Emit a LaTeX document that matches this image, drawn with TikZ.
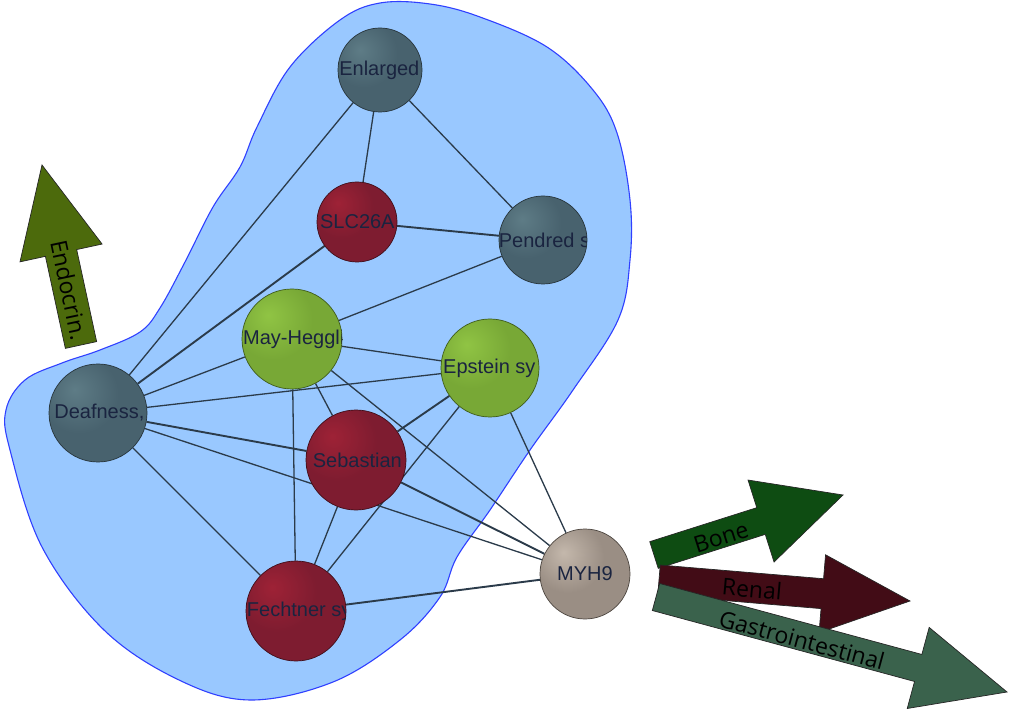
\documentclass[tikz,border=0pt]{standalone}
\usepackage{fontspec}
\setmainfont{Liberation Sans}
\newfontfamily\arrowfont{Open Sans}
\usetikzlibrary{calc}
\pgfdeclarelayer{blob}
\pgfdeclarelayer{edges}
\pgfsetlayers{blob,edges,main}

\definecolor{blobfill}{HTML}{99C8FF}
\definecolor{blobline}{HTML}{3040FF}
\definecolor{edgecol}{HTML}{2B3B4A}
\definecolor{ntextcol}{HTML}{1A2440}

\definecolor{slHL}{HTML}{5E7C86}
\definecolor{slM}{HTML}{48626E}
\definecolor{slD}{HTML}{384C56}
\definecolor{rdHL}{HTML}{9E2236}
\definecolor{rdM}{HTML}{7E1C30}
\definecolor{rdD}{HTML}{5C1424}
\definecolor{grHL}{HTML}{90C444}
\definecolor{grM}{HTML}{78A836}
\definecolor{grD}{HTML}{5A8426}
\definecolor{tpHL}{HTML}{C4B8AC}
\definecolor{tpM}{HTML}{9A8E84}
\definecolor{tpD}{HTML}{6E645C}

\definecolor{enD}{HTML}{4C6A0C}
\definecolor{enM}{HTML}{6E9222}
\definecolor{boD}{HTML}{0E4C12}
\definecolor{boM}{HTML}{227426}
\definecolor{reD}{HTML}{420C16}
\definecolor{reM}{HTML}{661A2A}
\definecolor{gaD}{HTML}{3A624C}
\definecolor{gaM}{HTML}{64907A}

\pgfdeclareradialshading{slball}{\pgfpoint{-12bp}{12bp}}{color(0bp)=(slHL); color(20bp)=(slM); color(48bp)=(slM); color(68bp)=(slD); color(100bp)=(slD)}
\pgfdeclareradialshading{rdball}{\pgfpoint{-12bp}{12bp}}{color(0bp)=(rdHL); color(20bp)=(rdM); color(48bp)=(rdM); color(68bp)=(rdD); color(100bp)=(rdD)}
\pgfdeclareradialshading{grball}{\pgfpoint{-12bp}{12bp}}{color(0bp)=(grHL); color(20bp)=(grM); color(48bp)=(grM); color(68bp)=(grD); color(100bp)=(grD)}
\pgfdeclareradialshading{tpball}{\pgfpoint{-12bp}{12bp}}{color(0bp)=(tpHL); color(20bp)=(tpM); color(48bp)=(tpM); color(68bp)=(tpD); color(100bp)=(tpD)}

\tikzset{
  gnode/.style={circle, inner sep=0pt, line width=0.7pt},
  slnode/.style={shading=slball, draw=slD!70!black},
  rdnode/.style={shading=rdball, draw=rdD!70!black},
  grnode/.style={shading=grball, draw=grD!70!black},
  tpnode/.style={shading=tpball, draw=tpD!70!black},
  ntext/.style={font=\fontsize{20}{20}\selectfont, text=ntextcol, inner sep=0pt},
  edge/.style={draw=edgecol, line width=1.3pt},
  edgeb/.style={draw=edgecol, line width=1.9pt},
  arrowlabel/.style={font=\arrowfont\fontsize{23}{23}\selectfont, text=black, inner sep=0pt},
  arrowline/.style={draw=black!85, line width=0.7pt}
}

% style, name, position, diameter, left pad, text
\newcommand\gn[6]{%
  \node[gnode, #1, minimum size=#4,
        path picture={\node[ntext, anchor=west] at ([xshift=#5]path picture bounding box.west) {#6};}]
        (#2) at (#3) {};%
}
% centred label variant: style, name, position, diameter, text
\newcommand\gnc[5]{%
  \node[gnode, #1, minimum size=#4,
        path picture={\node[ntext] at (path picture bounding box.center) {#5};}]
        (#2) at (#3) {};%
}

% tail, tip, half shaft width, half head width, head length, style
\newcommand\fatarrow[6]{%
  \coordinate (hb) at ($(#2)!#5!(#1)$);
  \path[#6] ($(#1)!#3!90:(#2)$) -- ($(hb)!#3!90:(#2)$) -- ($(hb)!#4!90:(#2)$) -- (#2)
     -- ($(hb)!#4!-90:(#2)$) -- ($(hb)!#3!-90:(#2)$) -- ($(#1)!#3!-90:(#2)$) -- cycle;%
}

\begin{document}
\begin{tikzpicture}[x=1pt,y=-1pt]
\useasboundingbox (0,0) rectangle (1010,711);

\begin{pgfonlayer}{blob}
  \fill[white] (0,0) rectangle (1010,711);
  \draw[draw=blobline, line width=1.1pt, fill=blobfill]
    plot[smooth cycle, tension=0.6] coordinates {
      (380,3) (430,4) (480,17) (547,47) (593,90) (617,133) (630,200) (630,260)
      (618,320) (573,390) (530,450) (490,510) (457,557) (440,597) (400,640)
      (333,682) (250,700) (179,680) (104,630) (42,547) (10,450) (6,410) (25,380)
      (62,363) (100,350) (140,332) (160,308) (185,262) (213,207) (240,167)
      (257,127) (290,67) (340,20)};
\end{pgfonlayer}

% nodes
\gn{slnode}{En}{380,70}{84pt}{-1pt}{Enlarged}
\gn{rdnode}{SL}{357,222}{80pt}{0pt}{SLC26A}
\gn{slnode}{Pe}{543,240}{88pt}{-1pt}{Pendred s}
\gn{grnode}{Ma}{292,339}{100pt}{0pt}{May-Heggli}
\gn{grnode}{Ep}{490,368}{98pt}{-1pt}{Epstein sy}
\gn{slnode}{De}{98,413}{98pt}{1pt}{Deafness,}
\gn{rdnode}{Se}{356,460}{100pt}{1pt}{Sebastian}
\gnc{tpnode}{MY}{585,574}{90pt}{MYH9}
\gn{rdnode}{Fe}{296,611}{100pt}{0pt}{Fechtner sy}

\begin{pgfonlayer}{edges}
  \draw[edge] (En) -- (SL);
  \draw[edge] (En) -- (Pe);
  \draw[edge] (En) -- (De);
  \draw[edgeb] (SL) -- (Pe);
  \draw[edgeb] (SL) -- (De);
  \draw[edge] (Pe) -- (Ma);
  \draw[edge] (Ma) -- (Ep);
  \draw[edge] (Ma) -- (De);
  \draw[edge] (Ma) -- (Se);
  \draw[edge] (Ma) -- (Fe);
  \draw[edge] (Ma) -- (MY);
  \draw[edge] (Ep) -- (De);
  \draw[edgeb] (Ep) -- (Se);
  \draw[edge] (Ep) -- (Fe);
  \draw[edge] (Ep) -- (MY);
  \draw[edgeb] (Se) -- (De);
  \draw[edge] (Se) -- (Fe);
  \draw[edgeb] (Se) -- (MY);
  \draw[edge] (De) -- (Fe);
  \draw[edge] (De) -- (MY);
  \draw[edgeb] (Fe) -- (MY);
\end{pgfonlayer}

% category arrows
\coordinate (endoT) at (81,345);
\coordinate (endoP) at (42,165);
\coordinate (boneT) at (654,555);
\coordinate (boneP) at (843,495);
\coordinate (renT) at (659,580);
\coordinate (renP) at (910,601);
\coordinate (gasT) at (656,597);
\coordinate (gasP) at (1007,692);

\fatarrow{endoT}{endoP}{16pt}{42pt}{90pt}{arrowline, top color=enD, middle color=enM, bottom color=enD, shading angle=102}
\node[arrowlabel, rotate=-78] (endoL) at (69,290) {Endocrin.};

\fatarrow{boneT}{boneP}{14pt}{43pt}{86pt}{arrowline, top color=boD, middle color=boM, bottom color=boD, shading angle=17.6}
\node[arrowlabel, rotate=17.6] (boneL) at (721,537) {Bone};

\fatarrow{renT}{renP}{15pt}{39pt}{88pt}{arrowline, top color=reD, middle color=reM, bottom color=reD, shading angle=-5}
\node[arrowlabel, rotate=-5] (renL) at (752,589) {Renal};

\fatarrow{gasT}{gasP}{14pt}{42pt}{92pt}{arrowline, top color=gaD, middle color=gaM, bottom color=gaD, shading angle=-15.1}
\node[arrowlabel, rotate=-15.1] (gasL) at (802,640) {Gastrointestinal};

\end{tikzpicture}
\end{document}
